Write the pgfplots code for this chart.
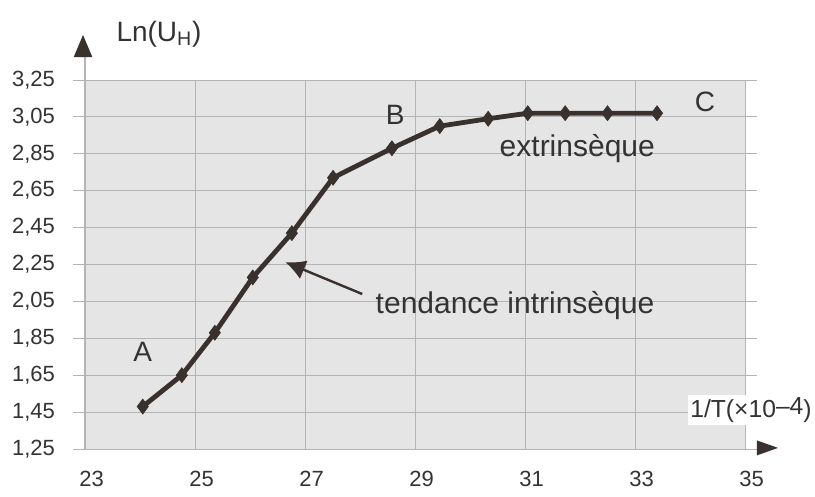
\documentclass[border=0pt]{standalone}
\usepackage{pgfplots}
\pgfplotsset{compat=1.18}
\usetikzlibrary{arrows.meta}
\usepackage{fontspec}
\setmainfont{Liberation Sans}
\definecolor{bggray}{HTML}{E5E5E5}
\definecolor{gridgray}{HTML}{B4B4B4}
\definecolor{ink}{HTML}{38312D}
\definecolor{txt}{HTML}{333333}

\begin{document}
\begin{tikzpicture}
\begin{axis}[
    scale only axis,
    width=495pt,
    height=276.75pt,
    xmin=23, xmax=35,
    ymin=1.25, ymax=3.25,
    xtick={23,25,27,29,31,33,35},
    ytick={1.25,1.45,1.65,1.85,2.05,2.25,2.45,2.65,2.85,3.05,3.25},
    grid=major,
    grid style={draw=gridgray,line width=0.7pt},
    axis line style={draw=none},
    axis background/.style={fill=bggray},
    tick align=outside,
    major tick length=9pt,
    ytick style={draw=gridgray,line width=0.7pt},
    xtick style={draw=none},
    tick label style={font=\fontsize{16.5}{19}\selectfont,text=txt},
    xticklabel style={xshift=5pt,yshift=-4pt},
    yticklabel style={xshift=-10pt},
    /pgf/number format/assume math mode=true,
    /pgf/number format/fixed,
    /pgf/number format/fixed zerofill,
    /pgf/number format/precision=2,
    /pgf/number format/use comma,
    xticklabel={\pgfmathprintnumber[precision=0,fixed zerofill=false]{\tick}},
    clip=false
]
\addplot[ink, line width=3.6pt, mark=diamond*, mark size=5.6pt,
    mark options={fill=ink,draw=ink,line width=0.5pt}]
    coordinates {(24.05,1.48) (24.76,1.65) (25.36,1.88) (26.05,2.18)
                 (26.76,2.42) (27.51,2.72) (28.58,2.88) (29.45,3.00)
                 (30.33,3.04) (31.05,3.07) (31.73,3.07) (32.5,3.07) (33.4,3.07)};

% left axis with arrow
\draw[gridgray,line width=1pt] (rel axis cs:0,0) -- (rel axis cs:0,1.062);
\fill[ink] ([xshift=-7pt]rel axis cs:-0.003,1.062) -- ([xshift=7pt]rel axis cs:-0.003,1.062)
    -- (rel axis cs:-0.003,1.122) -- cycle;
\node[text=txt,font=\fontsize{21}{24}\selectfont] at (rel axis cs:0.112,1.125) {Ln(U\textsubscript{H})};

% bottom axis arrow
\fill[ink] ([yshift=-5.6pt]rel axis cs:1.018,0.003) -- ([yshift=5.6pt]rel axis cs:1.018,0.003)
    -- (rel axis cs:1.05,0.003) -- cycle;
\node[fill=white,inner sep=2pt,text=txt,font=\fontsize{18.5}{21}\selectfont]
    at (rel axis cs:1.009,0.106) {1/T(×10\raisebox{2pt}{–4})};

% annotations
\node[text=txt,font=\fontsize{21}{24}\selectfont] at (axis cs:24.05,1.776) {A};
\node[text=txt,font=\fontsize{21}{24}\selectfont] at (axis cs:28.64,3.06) {B};
\node[text=txt,font=\fontsize{21}{24}\selectfont] at (axis cs:34.27,3.13) {C};
\node[text=txt,font=\fontsize{22.5}{25}\selectfont] at (axis cs:31.95,2.88) {extrinsèque};
\node[text=txt,font=\fontsize{22.5}{25}\selectfont,anchor=west] at (axis cs:28.2,2.03) {tendance intrinsèque};
\draw[ink,line width=1.8pt,-{Latex[length=15pt,width=15pt]}]
    (axis cs:28.04,2.09) -- (axis cs:26.64,2.263);

\coordinate (bl) at (rel axis cs:-0.1288,-0.1274);
\coordinate (tr) at (rel axis cs:1.106,1.2168);
\end{axis}
\pgfresetboundingbox
\path[use as bounding box] (bl) rectangle (tr);
\end{tikzpicture}
\end{document}
